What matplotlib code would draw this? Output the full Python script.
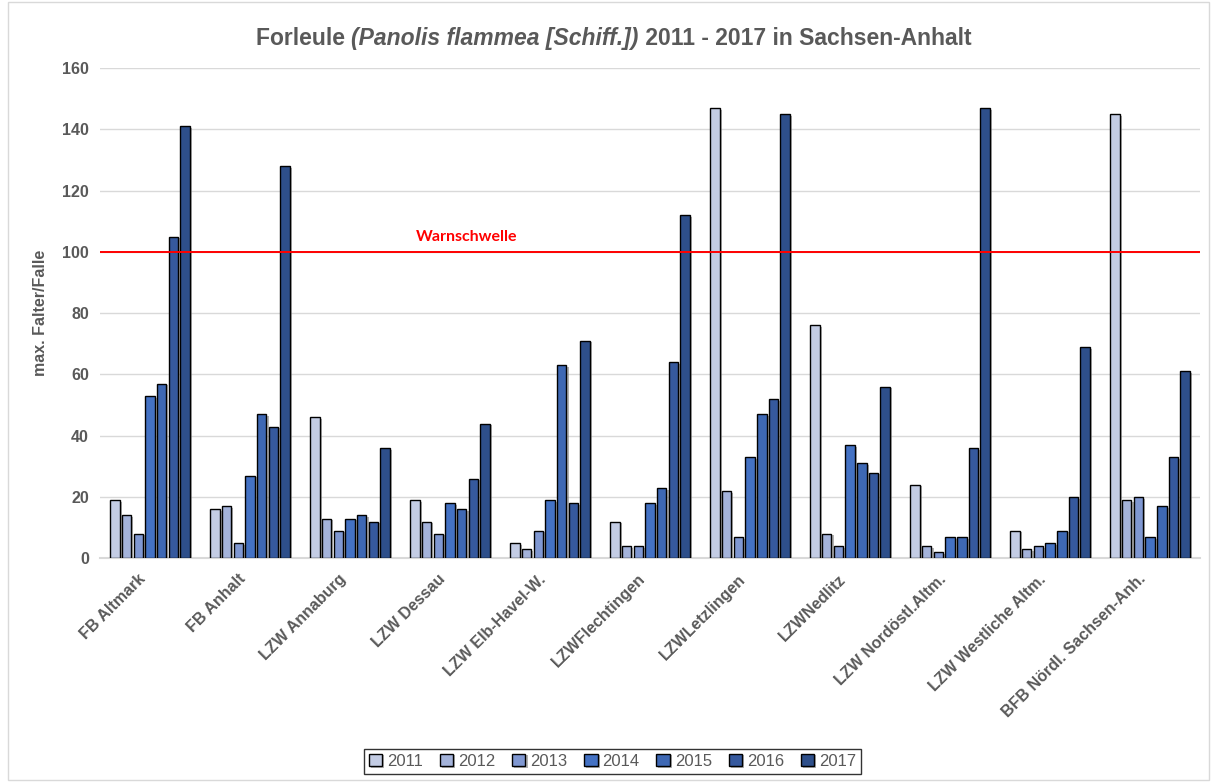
import matplotlib
matplotlib.use("Agg")
from matplotlib import pyplot as plt
from matplotlib import patheffects as pe
from matplotlib.patches import Rectangle
from matplotlib.transforms import ScaledTranslation
import numpy as np

categories = ["FB Altmark", "FB Anhalt", "LZW Annaburg", "LZW Dessau",
              "LZW Elb-Havel-W.", "LZWFlechtingen", "LZWLetzlingen",
              "LZWNedlitz", "LZW Nordöstl.Altm.", "LZW Westliche Altm.",
              "BFB Nördl. Sachsen-Anh."]
years = ["2011", "2012", "2013", "2014", "2015", "2016", "2017"]

v2011 = [19, 16, 46, 19, 5, 12, 147, 76, 24, 9, 145]
v2012 = [14, 17, 13, 12, 3, 4, 22, 8, 4, 3, 19]
v2013 = [8, 5, 9, 8, 9, 4, 7, 4, 2, 4, 20]
v2014 = [53, 27, 13, 18, 19, 18, 33, 37, 7, 5, 7]
v2015 = [57, 47, 14, 16, 63, 23, 47, 31, 7, 9, 17]
v2016 = [105, 43, 12, 26, 18, 64, 52, 28, 36, 20, 33]
v2017 = [141, 128, 36, 44, 71, 112, 145, 56, 147, 69, 61]
series = [v2011, v2012, v2013, v2014, v2015, v2016, v2017]

warn_level = 100
colors = ["#C3CCE4", "#A4B3DA", "#8098D2", "#4472C4", "#3E68B4", "#36599E", "#2E4F8A"]
grey = "#595959"

plt.rcParams["font.family"] = ["Liberation Sans", "DejaVu Sans"]

fig = plt.figure(figsize=(12.13, 7.82), dpi=100)
ax = fig.add_axes([0.0824, 0.286, 0.907, 0.627])

x = np.arange(len(categories))
slot = 0.117
shadow = [pe.SimplePatchShadow(offset=(1.5, -1.2), shadow_rgbFace="#7f7f7f", alpha=0.6), pe.Normal()]
for i, (vals, c, yr) in enumerate(zip(series, colors, years)):
    bars = ax.bar(x + (i - 3) * slot, vals, width=0.095, color=c,
                  edgecolor="black", linewidth=1.0, label=yr, zorder=3)
    for b in bars:
        b.set_path_effects(shadow)

ax.axhline(warn_level, color="#FF0000", lw=1.4, zorder=4)
ax.text(3.17, warn_level + 2.5, "Warnschwelle", color="#FF0000",
        fontsize=11.5, fontweight="bold", family=["Lato", "DejaVu Sans"],
        ha="center", va="bottom", zorder=5)

ax.set_xlim(-0.5, len(categories) - 0.5)
ax.set_ylim(0, 160)
ax.set_yticks(range(0, 161, 20))
ax.grid(axis="y", color="#D9D9D9", lw=1.0, zorder=0)
for s in ["top", "right", "left"]:
    ax.spines[s].set_visible(False)
ax.spines["bottom"].set_color("#D9D9D9")
ax.spines["bottom"].set_linewidth(1.5)
ax.tick_params(axis="both", length=0, labelsize=11.5, labelcolor=grey, pad=8)
ax.set_xticks(x)
ax.set_xticklabels(categories, rotation=45, ha="right", rotation_mode="anchor",
                   fontweight="bold")
shift = ScaledTranslation(-0.12, -0.02, fig.dpi_scale_trans)
for lab in ax.get_xticklabels():
    lab.set_transform(lab.get_transform() + shift)
for lab in ax.get_yticklabels():
    lab.set_fontweight("bold")
ax.set_ylabel("max. Falter/Falle", fontsize=11.5, fontweight="bold", color=grey, labelpad=10)

leg = fig.legend(loc="lower center", bbox_to_anchor=(0.505, 0.0), ncol=7,
                 fontsize=12, frameon=True, fancybox=False, edgecolor="black",
                 handlelength=0.8, handleheight=0.8, handletextpad=0.3,
                 columnspacing=1.0, borderpad=0.3)
leg.get_frame().set_linewidth(1.0)
for t in leg.get_texts():
    t.set_color(grey)

# title in three pieces (middle one italic)
parts = [("Forleule ", "normal"), ("(Panolis flammea [Schiff.])", "italic"),
         (" 2011 - 2017 in Sachsen-Anhalt", "normal")]
texts = [fig.text(0, 0.943, p, fontsize=16.5, fontweight="bold", style=st,
                  color=grey, va="baseline") for p, st in parts]
fig.canvas.draw()
r = fig.canvas.get_renderer()
widths = [t.get_window_extent(r).width / fig.bbox.width for t in texts]
start = 0.506 - sum(widths) / 2
for t, w in zip(texts, widths):
    t.set_x(start)
    start += w

fig.add_artist(Rectangle((0.007, 0.002), 0.99, 0.995, transform=fig.transFigure,
                         fill=False, edgecolor="#D9D9D9", lw=1.0))

fig.savefig("out.png", dpi=100)
